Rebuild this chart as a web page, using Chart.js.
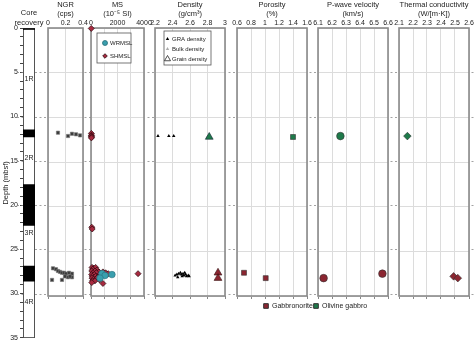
<!DOCTYPE html>
<html>
<head>
<meta charset="utf-8">
<script src="https://cdn.jsdelivr.net/npm/chart.js@4.4.1/dist/chart.umd.min.js"></script>
<style>
  body { margin: 0; background: #fff; }
  #wrap { position: relative; width: 474px; height: 344px; overflow: hidden; }
  canvas { position: absolute; top: 0; }
</style>
</head>
<body>
<div id="wrap">
  <canvas id="core" width="474" height="344" style="left:0"></canvas>
  <canvas id="ngr"></canvas>
  <canvas id="ms"></canvas>
  <canvas id="dens"></canvas>
  <canvas id="poro"></canvas>
  <canvas id="pwave"></canvas>
  <canvas id="tc"></canvas>
</div>
<script>
// core recovery (mbsf)
const coreSections = [[0, 0.15], [11.5, 12.3], [17.7, 22.3], [26.9, 28.6]];
const coreNames = ['1R', '2R', '3R', '4R'];
const coreNameDepth = [5.8, 14.7, 23.2, 31.0];
const depthGuides = [5, 10, 15, 20, 25, 30];

// NGR (cps)
const ngrValue = [0.114, 0.229, 0.274, 0.32, 0.366,
  0.057, 0.091, 0.114, 0.137, 0.16, 0.183, 0.206, 0.24, 0.274, 0.274, 0.229, 0.194, 0.16, 0.046, 0.251];
const ngrDepth = [11.72, 12.09, 11.84, 11.9, 12.02,
  26.9, 27.0, 27.2, 27.3, 27.4, 27.4, 27.5, 27.4, 27.5, 27.9, 27.9, 27.8, 28.2, 28.2, 27.8];

// MS (10^-5 SI)
const wrmslValue = [830, 1060, 1580, 680];
const wrmslDepth = [27.5, 27.7, 27.6, 28.0];
const shmslValue = [20, 30, 40, 20, 50, 30, 60, 90,
  80, 200, 350, 120, 450, 60, 300, 600, 150, 400, 900, 50, 250, 700, 1100, 100, 350, 550, 1300, 80, 200, 450, 120, 300, 60, 900, 650, 3550];
const shmslDepth = [0.05, 11.8, 12.0, 12.1, 12.2, 12.3, 22.3, 22.5,
  26.8, 26.9, 26.8, 27.0, 27.1, 27.2, 27.2, 27.3, 27.4, 27.4, 27.3, 27.6, 27.6, 27.5, 27.4, 27.8, 27.8, 27.9, 27.5, 28.0, 28.1, 28.0, 28.3, 28.3, 28.5, 28.6, 28.2, 27.5];

// Density (g/cm3)
const graValue = [2.234, 2.358, 2.414,
  2.43, 2.45, 2.47, 2.49, 2.50, 2.52, 2.53, 2.55, 2.56, 2.58, 2.59, 2.46, 2.51, 2.54];
const graDepth = [12.1, 12.1, 12.1,
  27.7, 27.6, 27.5, 27.4, 27.6, 27.5, 27.7, 27.6, 27.8, 27.7, 27.8, 27.9, 27.8, 27.4];
const bulkValue = [2.80, 2.91, 2.91];
const bulkDepth = [12.2, 27.4, 28.0];
const grainGnValue = [2.92, 2.92];
const grainGnDepth = [27.4, 28.0];
const grainOgValue = [2.82];
const grainOgDepth = [12.2];

// Porosity (%)
const poroGnValue = [0.70, 1.01];
const poroGnDepth = [27.4, 28.0];
const poroOgValue = [1.40];
const poroOgDepth = [12.2];

// P-wave velocity (km/s)
const vpGnValue = [6.14, 6.56];
const vpGnDepth = [28.0, 27.5];
const vpOgValue = [6.26];
const vpOgDepth = [12.1];

// Thermal conductivity (W/[m·K])
const tcGnValue = [2.49, 2.52];
const tcGnDepth = [27.8, 28.0];
const tcOgValue = [2.16];
const tcOgDepth = [12.1];

const GABBRONORITE = '#8b2631';
const OLIVINE = '#1e7a4a';
const GRID = '#dcdcdc';
const TOP = 28, PANEL_BOTTOM = 296, H = 344, PAD = 14;
const FONT = 'Arial, "Liberation Sans", Helvetica, sans-serif';

Chart.defaults.font.family = FONT;
Chart.defaults.font.size = 7;
Chart.defaults.color = '#222';
Chart.defaults.animation = false;
Chart.defaults.events = [];
Chart.defaults.plugins.legend.display = false;
Chart.defaults.plugins.tooltip.enabled = false;

const zip = (xs, ys) => xs.map((x, i) => ({ x: x, y: ys[i] }));
const plainTick = v => String(parseFloat(v.toFixed(2)));

function pts(values, depths, style, radius, fill, stroke, bw) {
  return {
    data: zip(values, depths), pointStyle: style, radius: radius,
    backgroundColor: fill, borderColor: stroke, borderWidth: bw, clip: false
  };
}

// white panel + grey frame
const frame = {
  id: 'frame',
  beforeDraw(chart) {
    const a = chart.chartArea, c = chart.ctx;
    c.save(); c.fillStyle = '#fff'; c.fillRect(a.left, a.top, a.width, a.height); c.restore();
  },
  beforeDatasetsDraw(chart) {
    const a = chart.chartArea, c = chart.ctx;
    c.save(); c.strokeStyle = '#8a8a8a'; c.lineWidth = 1.6;
    c.strokeRect(a.left, a.top, a.width, a.height); c.restore();
  }
};

function boxLegend(dx, dy, w, h, items, symX, textX) {
  return {
    id: 'boxLegend',
    afterDraw(chart) {
      const a = chart.chartArea, c = chart.ctx;
      const x0 = a.left + dx, y0 = a.top + dy;
      c.save();
      c.fillStyle = '#fff'; c.strokeStyle = '#555'; c.lineWidth = 0.8;
      c.fillRect(x0, y0, w, h); c.strokeRect(x0, y0, w, h);
      c.font = '6px ' + FONT;
      c.textBaseline = 'middle';
      items.forEach(it => {
        c.fillStyle = it.fill; c.strokeStyle = it.stroke;
        Chart.helpers.drawPoint(c, { pointStyle: it.style, radius: it.radius, borderWidth: it.bw }, x0 + symX, y0 + it.dy);
        c.fillStyle = '#222';
        c.fillText(it.label, x0 + textX, y0 + it.dy + 0.5);
      });
      c.restore();
    }
  };
}

function panel(id, left, right, xMin, xMax, step, title, datasets, tickCb, extraPlugins) {
  const cv = document.getElementById(id);
  cv.width = right - left + 2 * PAD;
  cv.height = H;
  cv.style.left = (left - PAD) + 'px';
  return new Chart(cv, {
    type: 'scatter',
    data: { datasets: datasets },
    options: {
      responsive: false,
      layout: { padding: { left: PAD, right: PAD, top: 0, bottom: 0 } },
      scales: {
        x: {
          type: 'linear', position: 'top', min: xMin, max: xMax,
          afterFit: s => { s.height = TOP; },
          grid: { color: GRID, drawTicks: false },
          border: { display: false },
          ticks: { stepSize: step, padding: 1, maxRotation: 0, autoSkip: false, callback: tickCb || plainTick },
          title: { display: true, text: title, padding: { top: 0, bottom: 0 }, font: { size: 7.5, lineHeight: 1.25 } }
        },
        x2: {
          type: 'linear', position: 'bottom', min: xMin, max: xMax,
          afterFit: s => { s.height = H - PANEL_BOTTOM; },
          grid: { drawOnChartArea: false, drawTicks: true, tickLength: 3, color: '#888' },
          border: { display: false },
          ticks: { display: false, stepSize: step }
        },
        y: {
          type: 'linear', reverse: true, min: 0, max: 30,
          afterFit: s => { s.width = 0; },
          grid: { color: GRID, drawTicks: false },
          border: { display: false },
          ticks: { display: false, stepSize: 5 }
        }
      }
    },
    plugins: [frame].concat(extraPlugins || [])
  });
}

// core recovery column with depth axis, guides and lithology key
const coreDecor = {
  id: 'coreDecor',
  beforeDatasetsDraw(chart) {
    const c = chart.ctx, y = chart.scales.y;
    c.save(); c.strokeStyle = '#8a8a8a'; c.lineWidth = 0.8; c.setLineDash([2, 2.5]);
    depthGuides.forEach(d => {
      const py = Math.round(y.getPixelForValue(d)) + 0.5;
      c.beginPath(); c.moveTo(17, py); c.lineTo(474, py); c.stroke();
    });
    c.restore();
  },
  afterDraw(chart) {
    const c = chart.ctx, y = chart.scales.y, a = chart.chartArea;
    const cx = (a.left + a.right) / 2;
    c.save();
    c.fillStyle = '#222'; c.textAlign = 'center'; c.textBaseline = 'middle';
    c.font = '7.5px ' + FONT;
    c.fillText('Core', cx, 13);
    c.fillText('recovery', cx, 22.5);
    c.font = '7px ' + FONT;
    coreNames.forEach((n, i) => c.fillText(n, cx, y.getPixelForValue(coreNameDepth[i])));
    const key = [{ label: 'Gabbronorite', color: GABBRONORITE, x: 266 }, { label: 'Olivine gabbro', color: OLIVINE, x: 316 }];
    c.textAlign = 'left';
    key.forEach(k => {
      c.fillStyle = k.color; c.strokeStyle = '#333';
      Chart.helpers.drawPoint(c, { pointStyle: 'rect', radius: 3.3, borderWidth: 0.6 }, k.x, 306);
      c.fillStyle = '#222';
      c.fillText(k.label, k.x + 6, 306.5);
    });
    c.restore();
  }
};

new Chart(document.getElementById('core'), {
  type: 'bar',
  data: {
    datasets: [
      { data: coreSections.map(s => ({ x: 'core', y: s })), backgroundColor: '#000', borderWidth: 0,
        grouped: false, barPercentage: 1, categoryPercentage: 1, order: 1 },
      { data: [{ x: 'core', y: [0, 35] }], backgroundColor: '#fff', borderColor: '#000', borderWidth: 1,
        borderSkipped: false, grouped: false, barPercentage: 1, categoryPercentage: 1, order: 2 }
    ]
  },
  options: {
    responsive: false,
    layout: { padding: { left: 0, right: 474 - 35, top: 0, bottom: 3.3 } },
    scales: {
      x: {
        type: 'category', labels: ['core'], position: 'top',
        afterFit: s => { s.height = TOP; },
        grid: { display: false }, border: { display: false }, ticks: { display: false }
      },
      y: {
        type: 'linear', reverse: true, min: 0, max: 35,
        afterFit: s => { s.width = 23; },
        grid: { drawOnChartArea: false, tickLength: 3, color: '#444' },
        border: { display: false },
        ticks: { stepSize: 1, padding: 2, autoSkip: false, callback: v => (v % 5 === 0 ? v : '') },
        title: { display: true, text: 'Depth (mbsf)', padding: { top: 1, bottom: 0 }, font: { size: 7.5 } }
      }
    }
  },
  plugins: [coreDecor]
});

panel('ngr', 48, 83, 0, 0.4, 0.2, ['NGR', '(cps)'], [
  pts(ngrValue, ngrDepth, 'rect', 2.3, '#3b3b3b', '#777', 0.6)
]);

panel('ms', 91, 144, 0, 4000, 1000, ['MS', '(10⁻⁵ SI)'], [
  pts(wrmslValue, wrmslDepth, 'circle', 3.3, '#3a9fae', '#2a6f7a', 0.6),
  pts(shmslValue, shmslDepth, 'rectRot', 3, '#a82a40', '#2a070d', 0.7)
], v => (v % 2000 === 0 ? String(v) : ''), [
  boxLegend(6, 5, 34, 30, [
    { label: 'WRMSL', style: 'circle', radius: 2.5, fill: '#3a9fae', stroke: '#2a6f7a', bw: 0.5, dy: 10 },
    { label: 'SHMSL', style: 'rectRot', radius: 2.3, fill: '#a82a40', stroke: '#2a070d', bw: 0.5, dy: 23 }
  ], 8, 13)
]);

panel('dens', 155, 225, 2.2, 3, 0.2, ['Density', '(g/cm³)'], [
  pts(graValue, graDepth, 'triangle', 2, '#000', '#000', 0),
  pts(grainOgValue, grainOgDepth, 'triangle', 4.5, OLIVINE, '#123', 0.6),
  pts(grainGnValue, grainGnDepth, 'triangle', 4.5, GABBRONORITE, '#311', 0.6),
  pts(bulkValue, bulkDepth, 'triangle', 2, '#aaa', '#aaa', 0)
], null, [
  boxLegend(9, 3, 47, 34, [
    { label: 'GRA density', style: 'triangle', radius: 2, fill: '#000', stroke: '#000', bw: 0, dy: 8 },
    { label: 'Bulk density', style: 'triangle', radius: 2, fill: '#aaa', stroke: '#aaa', bw: 0, dy: 18 },
    { label: 'Grain density', style: 'triangle', radius: 3.5, fill: '#fff', stroke: '#222', bw: 0.7, dy: 28 }
  ], 3.5, 8)
]);

panel('poro', 237, 307, 0.6, 1.6, 0.2, ['Porosity', '(%)'], [
  pts(poroOgValue, poroOgDepth, 'rect', 3.5, OLIVINE, '#333', 0.6),
  pts(poroGnValue, poroGnDepth, 'rect', 3.5, GABBRONORITE, '#333', 0.6)
]);

panel('pwave', 318, 388, 6.1, 6.6, 0.1, ['P-wave velocity', '(km/s)'], [
  pts(vpOgValue, vpOgDepth, 'circle', 3.8, OLIVINE, '#333', 0.6),
  pts(vpGnValue, vpGnDepth, 'circle', 3.8, GABBRONORITE, '#333', 0.6)
]);

panel('tc', 399, 469, 2.1, 2.6, 0.1, ['Thermal conductivity', '(W/[m·K])'], [
  pts(tcOgValue, tcOgDepth, 'rectRot', 3.8, OLIVINE, '#333', 0.6),
  pts(tcGnValue, tcGnDepth, 'rectRot', 3.8, GABBRONORITE, '#333', 0.6)
]);
</script>
</body>
</html>
